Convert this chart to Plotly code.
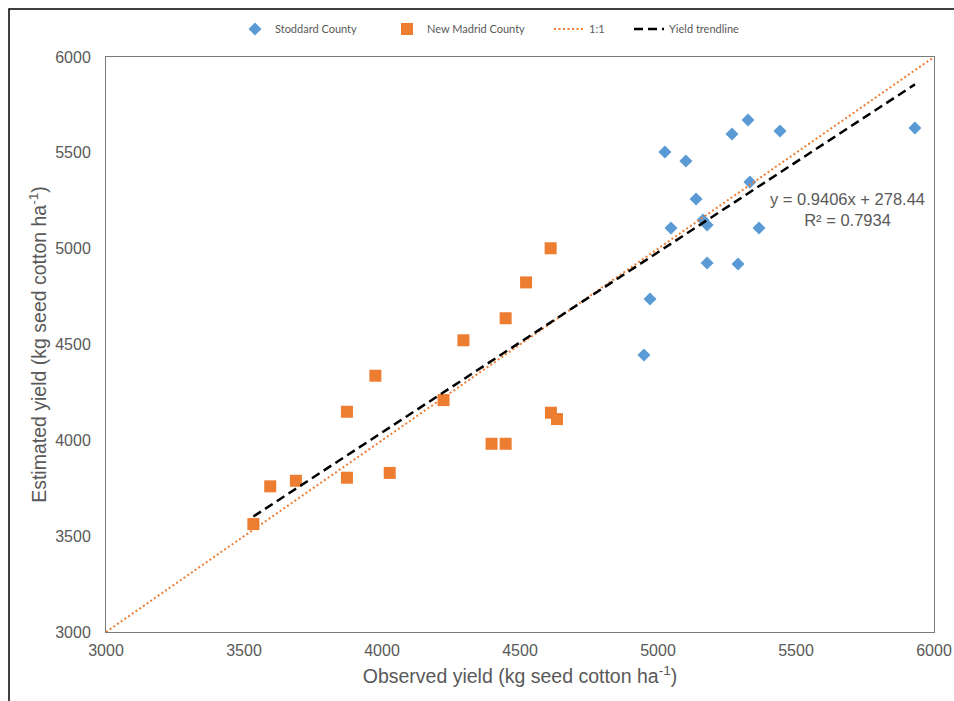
import plotly.graph_objects as go

# Stoddard County (observed, estimated)
stoddard_obs = [5025, 5101, 5268, 5326, 5442, 5931, 5138, 5333, 5047, 5163, 5178, 5366, 5178, 5290, 4971, 4949]
stoddard_est = [5504, 5457, 5598, 5671, 5614, 5630, 5259, 5348, 5108, 5150, 5124, 5108, 4925, 4920, 4737, 4445]

# New Madrid County (observed, estimated)
newmadrid_obs = [4611, 4522, 4448, 4295, 3976, 3873, 4223, 4612, 4634, 4397, 4448, 3873, 4028, 3595, 3688, 3534]
newmadrid_est = [5002, 4824, 4637, 4522, 4337, 4149, 4210, 4144, 4111, 3982, 3982, 3805, 3830, 3760, 3789, 3563]

# 1:1 line and trendline parameters
one_to_one = [3000, 6000]
slope = 0.9406
intercept = 278.44
r2 = 0.7934

tick_vals = [3000, 3500, 4000, 4500, 5000, 5500, 6000]

all_obs = stoddard_obs + newmadrid_obs
trend_x = [min(all_obs), max(all_obs)]
trend_y = [slope * v + intercept for v in trend_x]

grey = "#595959"
axis_font = "Liberation Sans, Arial, sans-serif"

# plot area geometry (px)
L, R, T, B = 106, 934, 57, 632
W, H = R - L, B - T


def px_x(p):
    return (p - L) / W


def px_y(p):
    return (B - p) / H


fig = go.Figure()
fig.add_trace(go.Scatter(
    x=stoddard_obs, y=stoddard_est, mode="markers", name="Stoddard County", legend="legend",
    marker=dict(symbol="diamond", size=10, color="#5B9BD5", line=dict(width=0))))
fig.add_trace(go.Scatter(
    x=newmadrid_obs, y=newmadrid_est, mode="markers", name="New Madrid County", legend="legend2",
    marker=dict(symbol="square", size=12, color="#ED7D31", line=dict(width=0))))
fig.add_trace(go.Scatter(
    x=one_to_one, y=one_to_one, mode="lines", name="1:1", legend="legend3",
    line=dict(color="#ED7D31", width=2, dash="2px,2.5px")))
fig.add_trace(go.Scatter(
    x=trend_x, y=trend_y, mode="lines", name="Yield trendline", legend="legend4",
    line=dict(color="black", width=2.5, dash="9px,5px")))

fig.add_annotation(
    x=5688, y=5205, xref="x", yref="y",
    text=f"y = {slope}x + {intercept}<br>R² = {r2}",
    showarrow=False, align="center", xanchor="center", yanchor="middle",
    font=dict(family=axis_font, size=16.5, color=grey))

# outer border
fig.add_shape(type="rect", xref="paper", yref="paper",
              x0=px_x(9), x1=px_x(975), y0=px_y(720), y1=px_y(9),
              line=dict(color="black", width=1.5), fillcolor="rgba(0,0,0,0)", layer="above")

leg_common = dict(orientation="h", xanchor="left", yanchor="middle", y=px_y(29),
                  font=dict(family="Lato, sans-serif", size=11, color=grey),
                  bgcolor="rgba(0,0,0,0)", borderwidth=0)

fig.update_layout(
    width=954, height=701,
    margin=dict(l=L, r=954 - R, t=T, b=701 - B, autoexpand=False),
    paper_bgcolor="white", plot_bgcolor="white",
    showlegend=True,
    legend=dict(x=px_x(235), **leg_common),
    legend2=dict(x=px_x(387), **leg_common),
    legend3=dict(x=px_x(549), **leg_common),
    legend4=dict(x=px_x(629), **leg_common),
    font=dict(family=axis_font, color=grey),
)

fig.update_xaxes(
    range=[3000, 6000], tickvals=tick_vals, ticktext=[str(v) for v in tick_vals],
    showgrid=False, zeroline=False, showline=True, linecolor="#7a7a7a", linewidth=1, mirror=True,
    ticks="outside", ticklen=4, tickcolor="rgba(0,0,0,0)", automargin=False,
    tickfont=dict(family=axis_font, size=16, color=grey),
    title=dict(text="Observed yield (kg seed cotton ha<sup>-1</sup>)",
               font=dict(family=axis_font, size=19.5, color=grey), standoff=11))
fig.update_yaxes(
    range=[3000, 6000], tickvals=tick_vals, ticktext=[str(v) for v in tick_vals],
    showgrid=False, zeroline=False, showline=True, linecolor="#7a7a7a", linewidth=1, mirror=True,
    ticks="outside", ticklen=11, tickcolor="rgba(0,0,0,0)", automargin=False,
    tickfont=dict(family=axis_font, size=16, color=grey),
    title=dict(text="Estimated yield (kg seed cotton ha<sup>-1</sup>)",
               font=dict(family=axis_font, size=19.5, color=grey), standoff=3))

fig.write_html("out.html", config={"displayModeBar": False},
               post_script="document.body.style.margin='0';document.body.style.overflow='hidden';")
